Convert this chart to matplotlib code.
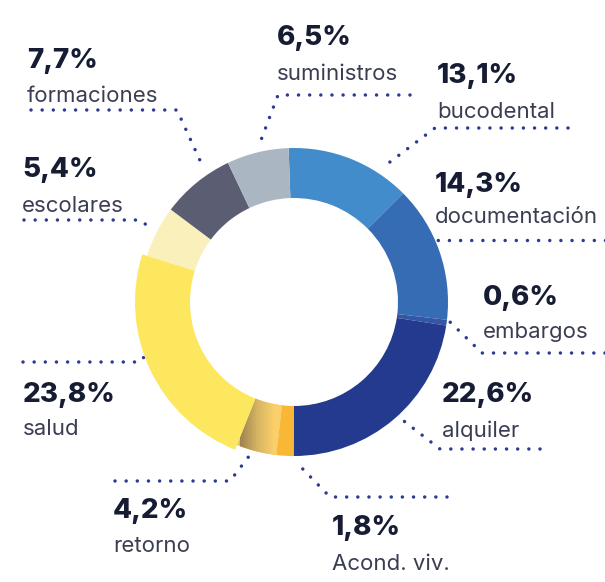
import numpy as np
import matplotlib
matplotlib.use("Agg")
import matplotlib.pyplot as plt
from matplotlib.colors import LinearSegmentedColormap

# ---- data ----
categories = ["bucodental", "documentación", "embargos", "alquiler", "Acond. viv.",
              "retorno", "salud", "escolares", "formaciones", "suministros"]
values = [13.1, 14.3, 0.6, 22.6, 1.8, 4.2, 23.8, 5.4, 7.7, 6.5]
pct_labels = ["13,1%", "14,3%", "0,6%", "22,6%", "1,8%", "4,2%", "23,8%", "5,4%", "7,7%", "6,5%"]

# ---- style ----
colors = ["#438ccb", "#366cb3", "#3555a5", "#233a8e", "#f8b735",
          "#e8c064", "#fde75e", "#faf0bb", "#5b5d73", "#abb6c3"]
W, H = 605, 582
cx, cy = 294, 302
r_out, r_in = 154, 104
dot_color = "#2b3b91"
pct_color = "#161c33"
name_color = "#3b3e52"
FONT = ["Inter", "DejaVu Sans"]

# label layout: x, baseline of pct, baseline of name, leader polyline
layout = {
    "bucodental":    (437, 83, 118, [(568, 128), (435, 128), (382, 168)]),
    "documentación": (435, 192, 223, [(605, 240), (436, 240)]),
    "embargos":      (483, 305, 338, [(605, 353), (482, 353), (450, 322)]),
    "alquiler":      (442, 402, 437, [(540, 449), (440, 449), (400, 418)]),
    "Acond. viv.":   (332, 535, 570, [(447, 497), (330, 497), (296, 462)]),
    "retorno":       (113, 518, 552, [(115, 481), (230, 481), (253, 451)]),
    "salud":         (23, 402, 435, [(23, 362), (140, 362), (144, 357)]),
    "escolares":     (22, 177, 212, [(24, 220), (140, 220), (153, 230)]),
    "formaciones":   (27, 68, 102, [(31, 110), (177, 110), (203, 167)]),
    "suministros":   (277, 45, 80, [(410, 95), (278, 95), (258, 148)]),
}

fig = plt.figure(figsize=(W / 100, H / 100), dpi=100)
ax = fig.add_axes([0, 0, 1, 1])

wedges, _ = ax.pie(values, colors=colors, startangle=-92, counterclock=True,
                   center=(cx, cy), radius=r_out, frame=True,
                   wedgeprops=dict(width=r_out - r_in, linewidth=0))
ax.set_xlim(0, W)
ax.set_ylim(H, 0)
ax.set_aspect("equal")
ax.axis("off")

# salud slice slightly larger
i_salud = categories.index("salud")
ws = wedges[i_salud]
ws.set_radius(r_out + 5)
ws.set_width(r_out + 5 - r_in)
ws.set_zorder(3)

# gradient on retorno
i_ret = categories.index("retorno")
wr = wedges[i_ret]
grad = np.linspace(0, 1, 256).reshape(1, -1)
cmap = LinearSegmentedColormap.from_list("g", ["#9c8350", "#d6b463", "#fcd06a", "#fbcc66"])
im = ax.imshow(grad, cmap=cmap, aspect="auto",
               extent=(240, 292, 470, 390), zorder=2, interpolation="bilinear")
im.set_clip_path(wr)
ax.set_xlim(0, W)
ax.set_ylim(H, 0)

# leader lines
for name, (x, yp, yn, pts) in layout.items():
    xs = [p[0] for p in pts]
    ys = [p[1] for p in pts]
    ax.plot(xs, ys, color=dot_color, lw=2.5, linestyle=(0, (0.01, 3.2)),
            dash_capstyle="round", solid_capstyle="round", zorder=1)

# texts
for name, pl in zip(categories, pct_labels):
    x, yp, yn, pts = layout[name]
    ax.text(x, yp, pl, fontsize=20, fontweight="heavy", color=pct_color,
            family=FONT, va="baseline", ha="left")
    ax.text(x, yn, name, fontsize=16, color=name_color,
            family=FONT, va="baseline", ha="left")

fig.savefig("out.png", dpi=100)
